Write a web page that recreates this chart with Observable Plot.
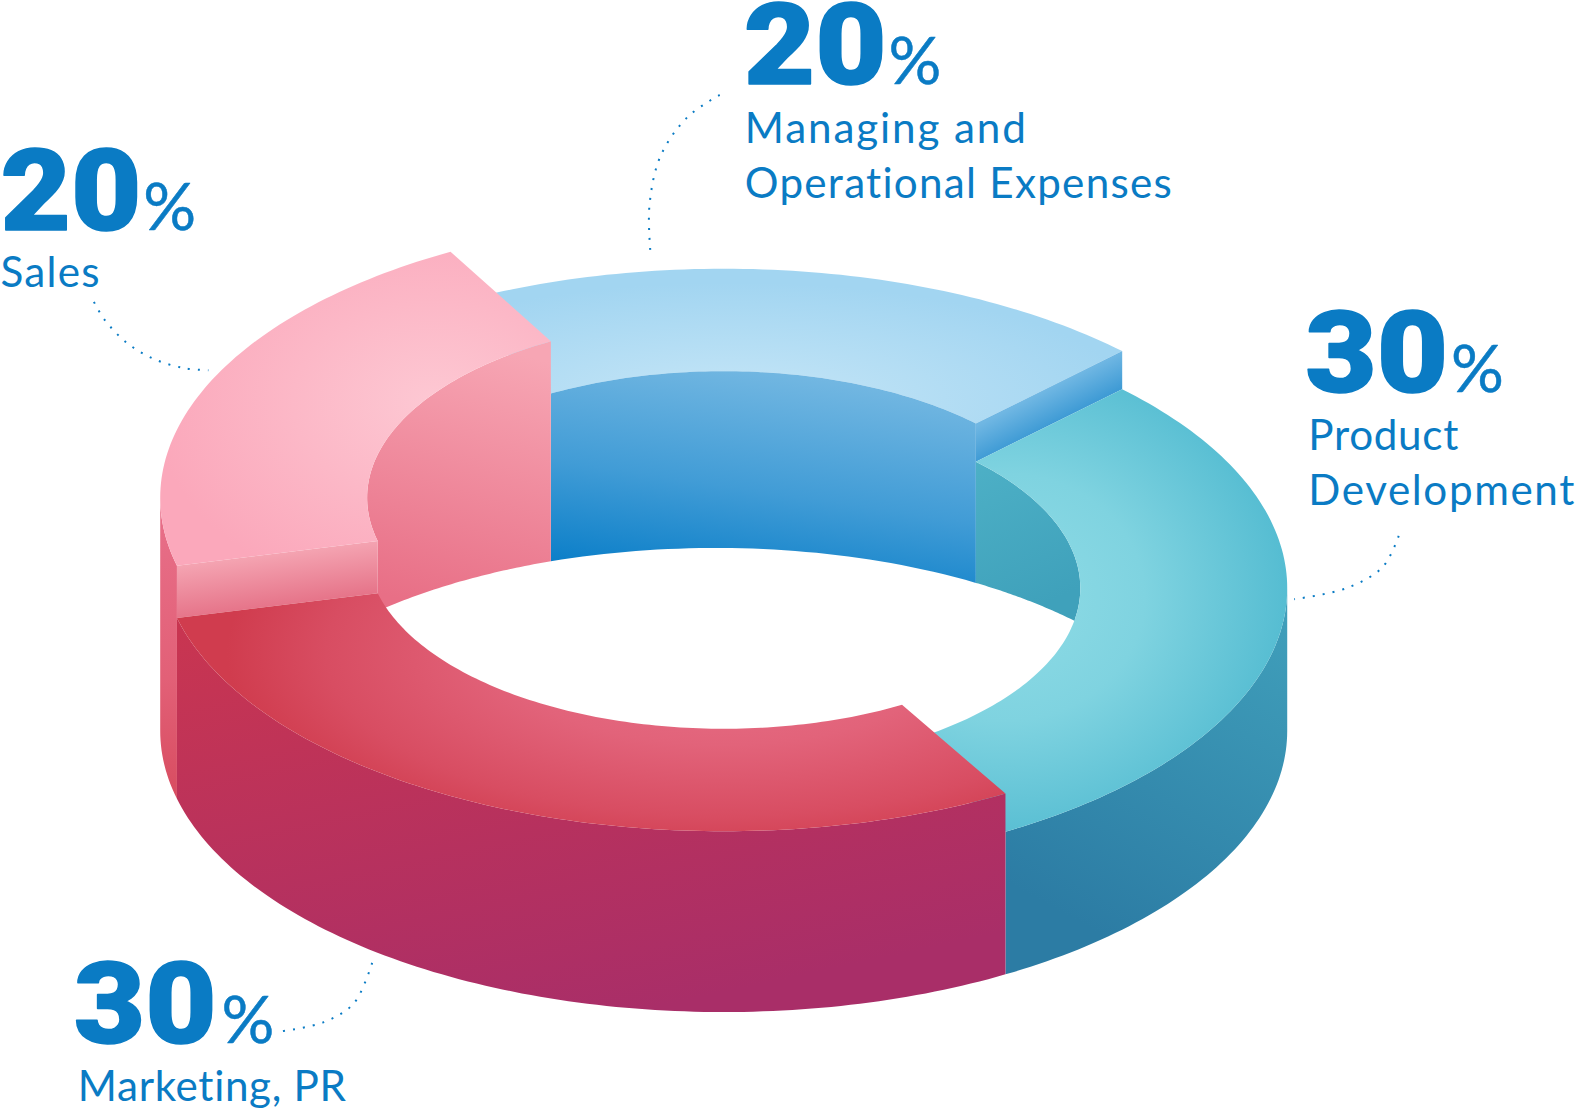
<!DOCTYPE html>
<html>
<head>
<meta charset="utf-8">
<script src="https://cdn.jsdelivr.net/npm/d3@7"></script>
<script src="https://cdn.jsdelivr.net/npm/@observablehq/plot@0.6"></script>
<style>
html,body{margin:0;padding:0;background:#fff}
.lbl text{font-variant-ligatures:none;font-feature-settings:"liga" 0}
</style>
</head>
<body>
<div id="chart"></div>
<script>
// ---- values ----
const sliceNames   = ["Managing and Operational Expenses", "Product Development", "Marketing, PR", "Sales"];
const percentText  = ["20", "30", "30", "20"];
const sweepDegrees = [74, 105, 106, 75];          // drawn sweep of each slice
const topLevels    = [547, 585, 547, 495];        // elevation of each slice's top face
const firstAngle   = 241;
const baseLevel    = 727;

// ---- label tables ----
const numberX = [740, 1299, 73, 0];
const numberY = [83, 390, 1038, 228];
const percentX = [884, 1444, 220, 142];
const numberWidths = [143, 143, 143, 141];
const labelLines = [
  ["Managing and", 741, 142],
  ["Operational Expenses", 741, 197],
  ["Product", 1302, 447],
  ["Development", 1302, 502],
  ["Marketing, PR", 77, 1096],
  ["Sales", 0, 285]
];
const labelWidths = [281, 427, 150, 266, 268, 99];

// ---- dotted leaders ----
const leaderManaging = [[716, 94], [684, 116], [657, 155], [646, 205], [647, 250]];
const leaderProduct  = [[1392, 533], [1376, 564], [1340, 585], [1288, 596]];
const leaderMarketing = [[370, 958], [352, 998], [322, 1017], [281, 1026]];
const leaderSales    = [[93, 300], [103, 317], [126, 341], [153, 357], [183, 366], [207, 368]];

// ---- ring shape ----
const cx = 720, outerRx = 561, outerRy = 280, innerRx = 355, innerRy = 178;
const holeCx = 712, holeRx = 490, holeRy = 230, holeCy = 775;   // far rim of the hole

const rad = d => d * Math.PI / 180;
const pt = (cy, rx, ry, deg) => ({x: cx + rx * Math.cos(rad(deg)), y: cy + ry * Math.sin(rad(deg))});
const arc = (a0, a1, cy, rx, ry) => {
  const n = Math.max(2, Math.ceil(Math.abs(a1 - a0)));
  return d3.range(n + 1).map(i => pt(cy, rx, ry, a0 + (a1 - a0) * i / n));
};
const holeY = x => holeCy - holeRy * Math.sqrt(Math.max(0, 1 - ((x - holeCx) / holeRx) ** 2));

const topFace = (a0, a1, cy) => [...arc(a0, a1, cy, outerRx, outerRy), ...arc(a1, a0, cy, innerRx, innerRy)];
const outerWall = (a0, a1, cy) => [...arc(a0, a1, cy, outerRx, outerRy), ...arc(a1, a0, baseLevel, outerRx, outerRy)];
const innerWall = (a0, a1, cy) => {
  const top = arc(a0, a1, cy, innerRx, innerRy).filter(p => p.y < holeY(p.x));
  const x0 = top[0].x, x1 = top[top.length - 1].x;
  const bottom = d3.range(41).map(i => { const x = x1 + (x0 - x1) * i / 40; return {x, y: holeY(x)}; });
  return [...top, ...bottom];
};
const cutFace = (a, cyTop, cyLow) => [
  pt(cyTop, outerRx, outerRy, a), pt(cyTop, innerRx, innerRy, a),
  pt(cyLow, innerRx, innerRy, a), pt(cyLow, outerRx, outerRy, a)
];

const edges = sweepDegrees.reduce((acc, s) => [...acc, acc[acc.length - 1] + s], [firstAngle]);
const [blue0, teal0, red0, pink0, pink1] = edges;
const [blueTop, tealTop, redTop, pinkTop] = topLevels;

const defs = () => {
  const st = stops => stops.map(([o, c]) => `<stop offset="${o}" stop-color="${c}"/>`).join("");
  const lin = (id, x1, y1, x2, y2, stops) => `<linearGradient id="${id}" x1="${x1}" y1="${y1}" x2="${x2}" y2="${y2}">${st(stops)}</linearGradient>`;
  const radl = (id, gx, gy, sx, sy, stops) => `<radialGradient id="${id}" cx="0" cy="0" r="1" gradientTransform="translate(${gx} ${gy}) scale(${sx} ${sy})">${st(stops)}</radialGradient>`;
  return d3.create("svg:defs").html(
    radl("gBlueTop", .42, .86, .6, .77, [[0, "#c6e6f7"], [1, "#a2d5f1"]]) +
    lin("gBlueWall", .6, 0, .3, 1, [[0, "#74b8e2"], [.55, "#419cd6"], [1, "#0a7ec8"]]) +
    lin("gBlueCut", .5, .34, .653, .565, [[0, "#70b7e3"], [1, "#3f9bd5"]]) +
    radl("gTealTop", .265, .47, .73, .56, [[0, "#90dce6"], [.5, "#7fd3e0"], [1, "#56bdd2"]]) +
    lin("gTealInner", 0, 0, .3, 1, [[0, "#4db0c6"], [1, "#3fa1bb"]]) +
    lin("gTealWall", 1, 0, .6, 1, [[0, "#41a1bc"], [1, "#2c7ca4"]]) +
    radl("gRedTop", .66, .25, .6, .86, [[0, "#e8728a"], [.45, "#e2637a"], [.8, "#d84d62"], [1, "#d03c4e"]]) +
    lin("gRedWall", .1, 0, .55, 1, [[0, "#c83551"], [1, "#a92e68"]]) +
    radl("gPinkTop", .7, .48, .72, .64, [[0, "#fdc8d3"], [1, "#fba8bb"]]) +
    lin("gPinkInner", .6, 0, .4, 1, [[0, "#f7a6b4"], [1, "#e86f86"]]) +
    lin("gPinkCut", .5, .17, .7, .76, [[0, "#f4a3b1"], [1, "#e6758a"]]) +
    lin("gPinkWall", 0, 0, 0, 1, [[0, "#e8708a"], [.6, "#e26077"], [1, "#d84c60"]])
  ).node();
};

const shape = (points, id) => Plot.line(points, {x: "x", y: "y", fill: `url(#${id})`, stroke: "none", curve: "linear"});
const leader = pts => Plot.line(pts, {x: d => d[0], y: d => d[1], curve: "catmull-rom", stroke: "#0a7bc4", strokeWidth: 2, strokeDasharray: "2 8", strokeLinecap: "butt"});

const blue = "#0a7bc4";
const chart = Plot.plot({
  width: 1575, height: 1110,
  margin: 0, marginTop: 0, marginRight: 0, marginBottom: 0, marginLeft: 0,
  style: {background: "#fff", display: "block"},
  x: {domain: [0, 1568], range: [0, 1575], axis: null},
  y: {domain: [0, 1105], range: [0, 1110], axis: null},
  marks: [
    defs,
    // Managing
    shape(topFace(blue0, teal0, blueTop), "gBlueTop"),
    shape(innerWall(blue0, teal0, blueTop), "gBlueWall"),
    shape(cutFace(teal0, blueTop, tealTop), "gBlueCut"),
    // Product
    shape(outerWall(360, red0, tealTop), "gTealWall"),
    shape(innerWall(teal0, 385, tealTop), "gTealInner"),
    shape(topFace(teal0, red0, tealTop), "gTealTop"),
    // Sales
    shape(outerWall(pink0, 540, pinkTop), "gPinkWall"),
    shape(innerWall(pink0, pink1, pinkTop), "gPinkInner"),
    shape(cutFace(pink0, pinkTop, redTop), "gPinkCut"),
    shape(topFace(pink0, pink1, pinkTop), "gPinkTop"),
    // Marketing
    shape(outerWall(red0, pink0, redTop), "gRedWall"),
    shape(topFace(red0, pink0, redTop), "gRedTop"),
    // leaders
    leader(leaderManaging), leader(leaderProduct), leader(leaderMarketing), leader(leaderSales),
    // labels
    Plot.text(percentText, {x: (d, i) => numberX[i], y: (d, i) => numberY[i], text: d => d, textAnchor: "start", lineAnchor: "bottom",
      fontFamily: "Roboto", fontWeight: 900, fontSize: 114, fill: blue, stroke: blue, strokeWidth: 1.5, className: "num"}),
    Plot.text(percentText, {x: (d, i) => percentX[i], y: (d, i) => numberY[i], text: () => "%", textAnchor: "start", lineAnchor: "bottom",
      fontFamily: "Lato", fontWeight: 400, fontSize: 66, fill: blue, stroke: blue, strokeWidth: 0.5}),
    Plot.text(labelLines, {x: d => d[1], y: d => d[2], text: d => d[0], textAnchor: "start", lineAnchor: "bottom",
      fontFamily: "Lato", fontWeight: 400, fontSize: 42.2, fill: blue, className: "lbl"})
  ]
});
d3.select(chart).selectAll(".lbl text").attr("textLength", (d, i) => labelWidths[i]).attr("lengthAdjust", "spacing");
d3.select(chart).selectAll(".num text").attr("textLength", (d, i) => numberWidths[i]).attr("lengthAdjust", "spacingAndGlyphs");
document.getElementById("chart").appendChild(chart);
</script>
</body>
</html>
